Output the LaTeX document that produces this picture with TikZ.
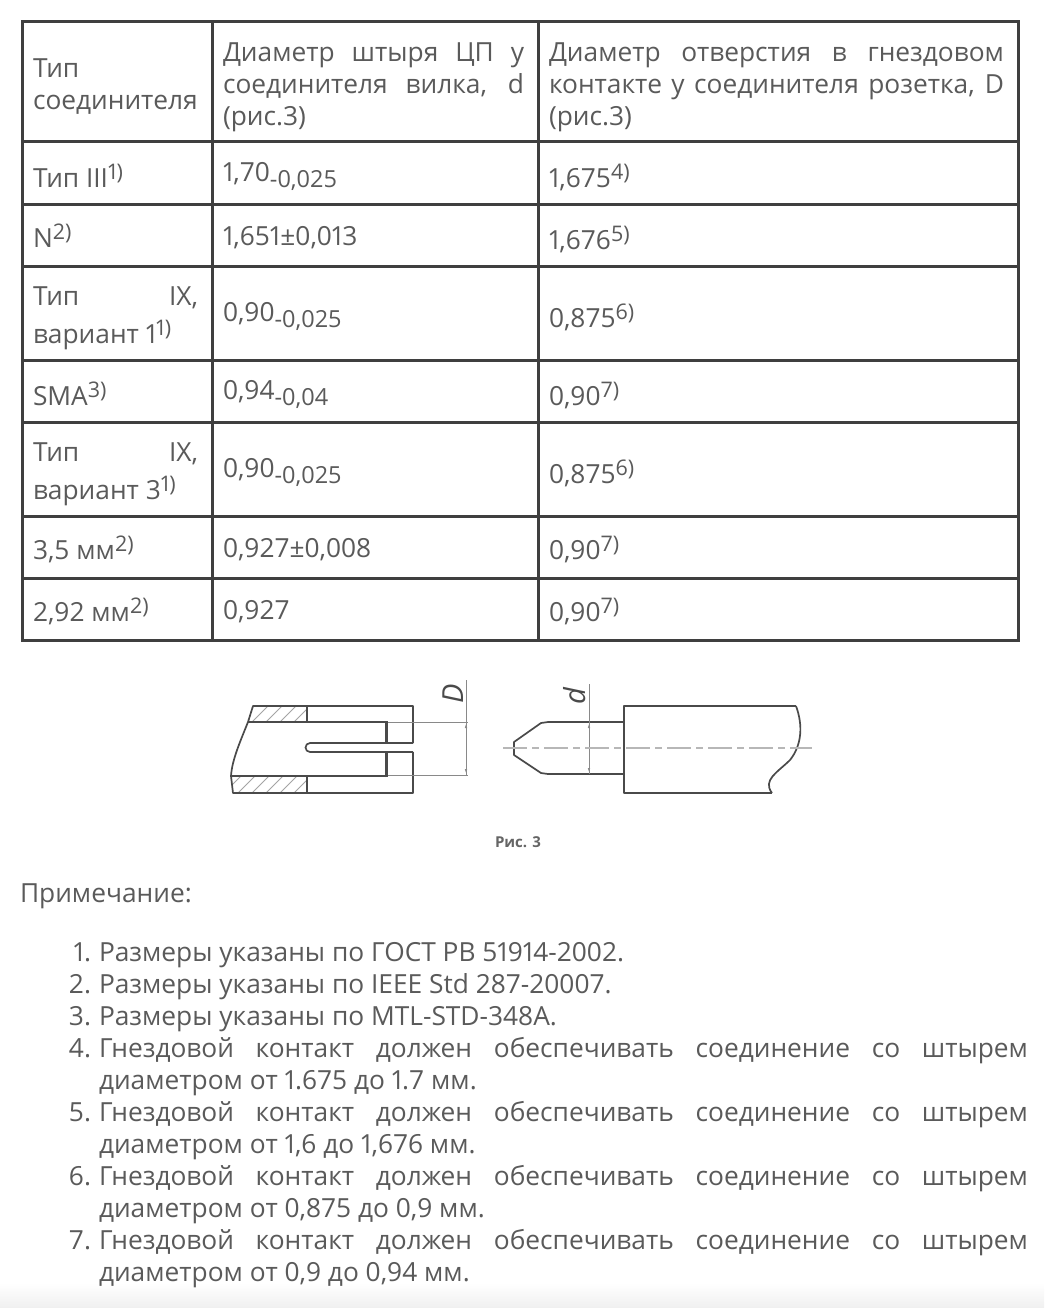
\documentclass[tikz,border=0pt]{standalone}
\usepackage{fontspec}
\setmainfont[Numbers=Proportional]{Open Sans}
\usetikzlibrary{arrows.meta}
\definecolor{txt}{HTML}{5A5A5A}
\definecolor{grid}{HTML}{3F3F3F}
\definecolor{ink}{HTML}{4A4A4A}
\newcounter{tn}
\newcommand{\Up}[1]{\raisebox{8pt}{\fontsize{21.5}{21.5}\selectfont #1}}
\newcommand{\Dn}[1]{\raisebox{-6pt}{\fontsize{23.5}{23.5}\selectfont #1}}
\newcommand{\TT}[3]{\stepcounter{tn}\node[lbl] (t\thetn) at (#1,#2) {#3};}
\newcommand{\JJ}[4]{\stepcounter{tn}\node[lbl] (t\thetn) at (#1,#2) {\makebox[#3pt][s]{#4}};}
\tikzset{
 lbl/.style={anchor=base west,inner sep=0pt,outer sep=0pt,yshift=-0.7pt,text=txt,font=\fontsize{26.3}{32}\selectfont},
 gridline/.style={draw=grid,line width=3pt},
 part/.style={draw=ink,line width=1.7pt,line join=round},
 thick part/.style={draw=ink,line width=3pt},
 thin part/.style={draw=ink!65,line width=0.9pt},
 hatch/.style={draw=ink!50,line width=0.9pt},
 axisline/.style={draw=ink!40,line width=1.6pt,dash pattern=on 24pt off 5pt on 7pt off 5pt},
}
\begin{document}
\begin{tikzpicture}[x=1pt,y=-1pt]
\useasboundingbox (0,0) rectangle (1044,1308);
\fill[white] (0,0) rectangle (1044,1308);
\shade[top color=white,bottom color=black!6] (0,1283) rectangle (1044,1308);
% grid
\draw[gridline] (22,22) rectangle (1018,640);
\foreach \x in {212,538} \draw[gridline] (\x,22) -- (\x,640);
\foreach \y in {142,204,266,360,422,516,578} \draw[gridline] (22,\y) -- (1018,\y);
% column 1
\TT{33}{77}{Тип}
\TT{33}{109}{соединителя}
\TT{33}{187}{Тип III\Up{1)}}
\TT{33}{247}{N\Up{2)}}
\JJ{33}{305}{165}{Тип IX,}
\TT{33}{343}{вариант 1\Up{1)}}
\TT{33}{405}{SMA\Up{3)}}
\JJ{33}{461}{165}{Тип IX,}
\TT{33}{499}{вариант 3\Up{1)}}
\TT{33}{559}{3,5 мм\Up{2)}}
\TT{33}{621}{2,92 мм\Up{2)}}
% column 2
\JJ{223}{61}{301}{Диаметр штыря ЦП у}
\JJ{223}{93}{301}{соединителя вилка, d}
\TT{223}{125}{(рис.3)}
\TT{223}{181}{1,70\Dn{-0,025}}
\TT{223}{245}{1,651±0,013}
\TT{223}{321}{0,90\Dn{-0,025}}
\TT{223}{399}{0,94\Dn{-0,04}}
\TT{223}{477}{0,90\Dn{-0,025}}
\TT{223}{557}{0,927±0,008}
\TT{223}{619}{0,927}
% column 3
\JJ{549}{61}{455}{Диаметр отверстия в гнездовом}
\JJ{549}{93}{455}{контакте у соединителя розетка, D}
\TT{549}{125}{(рис.3)}
\TT{549}{187}{1,675\Up{4)}}
\TT{549}{249}{1,676\Up{5)}}
\TT{549}{327}{0,875\Up{6)}}
\TT{549}{405}{0,90\Up{7)}}
\TT{549}{483}{0,875\Up{6)}}
\TT{549}{559}{0,90\Up{7)}}
\TT{549}{621}{0,90\Up{7)}}
% figure: socket hatching
\begin{scope}
\clip (253,706) -- (307,706) -- (307,722) -- (248,722) -- cycle;
\foreach \s in {250,264,...,334} \draw[hatch] (\s,724) -- (\s+20,704);
\end{scope}
\begin{scope}
\clip (231,776) -- (307,776) -- (307,793) -- (233,793) -- cycle;
\foreach \s in {222,236,...,320} \draw[hatch] (\s,795) -- (\s+20,775);
\end{scope}
% figure: socket outline
\draw[part] (413,743) -- (413,706) -- (253,706) -- (248,722) .. controls (240,742) and (232,760) .. (231,776) -- (233,793) -- (413,793) -- (413,752);
\draw[part] (248,722) -- (386,722);
\draw[part] (231,776) -- (386,776);
\draw[thick part] (386,721) -- (386,743);
\draw[thick part] (386,777) -- (386,752);
\draw[part] (307,706) -- (307,722);
\draw[part] (307,776) -- (307,793);
\draw[part] (413,743) -- (310,743) arc[start angle=270,delta angle=-180,radius=4.5] -- (413,752);
\draw[thin part] (388,722) -- (468,722);
\draw[thin part] (388,775) -- (468,775);
\draw[thin part] (466,680) -- (466,775);
\draw[thin part,{Latex[length=5pt,width=2.5pt]}-{Latex[length=5pt,width=2.5pt]}] (466,723) -- (466,774);
% figure: pin
\draw[part] (624,722) -- (548,722) -- (541,723) -- (514,742) -- (514,755) -- (541,773) -- (548,774) -- (624,774);
\draw[part] (796,706) -- (624,706) -- (624,793) -- (772,793);
\draw[part] (796,706) .. controls (803,725) and (802,745) .. (790,760) .. controls (778,772) and (762,780) .. (772,793);
\draw[thin part] (589,684) -- (589,774);
\draw[thin part,{Latex[length=5pt,width=2.5pt]}-{Latex[length=5pt,width=2.5pt]}] (589,723) -- (589,773);
\draw[axisline] (503,748) -- (812,748);
\node[anchor=center,inner sep=0pt,text=ink,rotate=90,font=\fontsize{29}{29}\selectfont\itshape] (dD) at (453,694) {D};
\node[anchor=center,inner sep=0pt,text=ink,rotate=90,font=\fontsize{29}{29}\selectfont\itshape] (dd) at (575,696) {d};
\node[anchor=center,inner sep=0pt,text=ink!85,font=\fontsize{15}{15}\selectfont\bfseries] (cap) at (518,842) {Рис. 3};
% notes
\TT{20}{902}{Примечание:}
\foreach \n/\y in {1/961,2/993,3/1025,4/1057,5/1121,6/1185,7/1249}{
  \stepcounter{tn}\node[lbl,anchor=base east] (n\n) at (91,\y) {\n.};
}
\TT{99}{961}{Размеры указаны по ГОСТ РВ 51914-2002.}
\TT{99}{993}{Размеры указаны по IEEE Std 287-20007.}
\TT{99}{1025}{Размеры указаны по MTL-STD-348A.}
\JJ{99}{1057}{929}{Гнездовой контакт должен обеспечивать соединение со штырем}
\TT{99}{1089}{диаметром от 1.675 до 1.7 мм.}
\JJ{99}{1121}{929}{Гнездовой контакт должен обеспечивать соединение со штырем}
\TT{99}{1153}{диаметром от 1,6 до 1,676 мм.}
\JJ{99}{1185}{929}{Гнездовой контакт должен обеспечивать соединение со штырем}
\TT{99}{1217}{диаметром от 0,875 до 0,9 мм.}
\JJ{99}{1249}{929}{Гнездовой контакт должен обеспечивать соединение со штырем}
\TT{99}{1281}{диаметром от 0,9 до 0,94 мм.}
\end{tikzpicture}
\end{document}
